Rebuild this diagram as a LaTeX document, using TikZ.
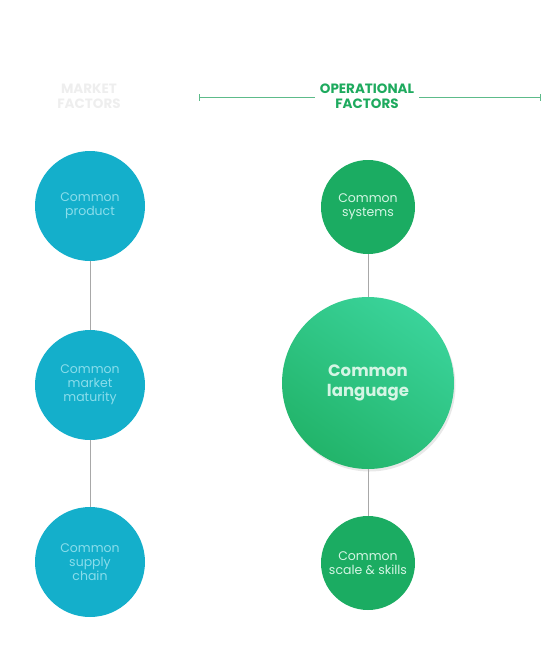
\documentclass[tikz,border=0pt]{standalone}
\usepackage{fontspec}
\setmainfont{Poppins}
\usetikzlibrary{shadows}
\definecolor{bluec}{HTML}{14AFCB}
\definecolor{bluet}{HTML}{8ADDEB}
\definecolor{greenc}{HTML}{1BAC62}
\definecolor{greent}{HTML}{D4F5E4}
\definecolor{biglight}{HTML}{3AD39A}
\definecolor{bigdark}{HTML}{22B46A}
\definecolor{headg}{HTML}{1EAA5E}
\definecolor{headgray}{HTML}{EEEEEE}
\definecolor{rule}{HTML}{5DBB8A}
\definecolor{conn}{HTML}{A8A8A8}
\tikzset{
  bluecircle/.style={circle, fill=bluec, minimum size=110pt, inner sep=0pt, align=center,
    text=bluet, font=\fontsize{12.5}{14}\selectfont},
  greensmall/.style={circle, fill=greenc, minimum size=94pt, inner sep=0pt, align=center,
    text=greent, font=\fontsize{12.5}{14}\selectfont},
  greenbig/.style={circle, top color=biglight, bottom color=bigdark, shading angle=-35,
    minimum size=172pt, inner sep=0pt, align=center, text=greent,
    font=\bfseries\fontsize{16.5}{20}\selectfont,
    drop shadow={opacity=0.18, shadow xshift=1.5pt, shadow yshift=-2.5pt}},
  header/.style={align=center, font=\bfseries\fontsize{13.5}{15}\selectfont},
  connector/.style={draw=conn, line width=0.8pt},
  ruleline/.style={draw=rule, line width=0.9pt}
}
\begin{document}
\begin{tikzpicture}[x=1pt,y=-1pt]
\useasboundingbox (0,0) rectangle (541,649);
% headers
\node[header, text=headgray] (mkt) at (89,96) {MARKET\\FACTORS};
\node[header, text=headg, fill=white, inner xsep=5pt] (ops) at (367,96) {OPERATIONAL\\FACTORS};
\coordinate (rl) at (199.5,97);
\coordinate (rr) at (540,97);
\draw[ruleline] (rl) -- (ops.west |- rl);
\draw[ruleline] (ops.east |- rr) -- (rr);
\draw[ruleline] ([yshift=-3.5pt]rl) -- ([yshift=3.5pt]rl);
\draw[ruleline] ([yshift=-3.5pt]rr) -- ([yshift=3.5pt]rr);
% left column
\node[bluecircle] (p) at (90,206) {Common\\product};
\node[bluecircle] (m) at (90,385) {Common\\market\\maturity};
\node[bluecircle] (s) at (90,562) {Common\\supply\\chain};
\draw[connector] (p) -- (m);
\draw[connector] (m) -- (s);
% right column
\node[greensmall] (sys) at (368,207) {Common\\systems};
\node[greenbig] (lang) at (368,383) {Common\\language};
\node[greensmall] (sk) at (368,563) {Common\\scale \& skills};
\draw[connector] (sys) -- (lang);
\draw[connector] (lang) -- (sk);
\end{tikzpicture}
\end{document}
